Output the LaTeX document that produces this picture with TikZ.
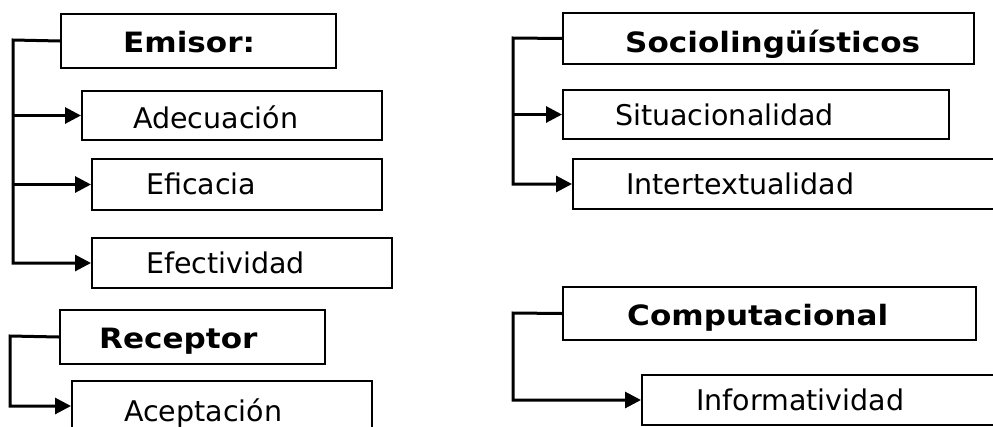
\documentclass[tikz,border=0pt]{standalone}
\usepackage{fontspec}
\setmainfont{DejaVu Sans}
\newfontfamily\hdrfont[FakeStretch=1.11]{DejaVu Sans Bold}
\usetikzlibrary{arrows.meta}
\tikzset{
  box/.style={draw=black, line width=2pt, rectangle, anchor=north west, inner sep=0pt},
  txt/.style={anchor=base west, inner sep=0pt, font=\fontsize{28.5}{30}\selectfont},
  hdr/.style={anchor=base west, inner sep=0pt, font=\fontsize{28}{30}\selectfont\hdrfont},
  conn/.style={draw=black, line width=3pt},
  arr/.style={conn, -{Triangle[length=16pt,width=16pt]}}
}
\begin{document}
\begin{tikzpicture}[x=1pt,y=-1pt]
\useasboundingbox (0,0) rectangle (993,426);
\clip (0,0) rectangle (993,426);
% boxes
\node[box, minimum width=275, minimum height=54] (ems) at (60,13) {};
\node[box, minimum width=300, minimum height=49] (ade) at (81,90) {};
\node[box, minimum width=290, minimum height=51] (efi) at (91,158) {};
\node[box, minimum width=300, minimum height=50] (efe) at (91,237) {};
\node[box, minimum width=265, minimum height=54] (rec) at (59,309) {};
\node[box, minimum width=300, minimum height=50] (ace) at (71,380) {};
\node[box, minimum width=411, minimum height=51] (soc) at (562,12) {};
\node[box, minimum width=386, minimum height=49] (sit) at (562,89) {};
\node[box, minimum width=440, minimum height=50] (int) at (572,158) {};
\node[box, minimum width=413, minimum height=53] (com) at (562,286) {};
\node[box, minimum width=370, minimum height=50] (inf) at (641,374) {};
% texts
\node[hdr] (tems) at (123,52) {Emisor:};
\node[txt] (tade) at (133,128) {Adecuación};
\node[txt] (tefi) at (146,194) {Eficacia};
\node[txt] (tefe) at (146,273) {Efectividad};
\node[hdr] (trec) at (99,348) {Receptor};
\node[txt] (tace) at (124,421) {Aceptación};
\node[hdr] (tsoc) at (625,52) {Sociolingüísticos};
\node[txt] (tsit) at (615,125) {Situacionalidad};
\node[txt] (tint) at (626,194) {Intertextualidad};
\node[hdr] (tcom) at (627,325) {Computacional};
\node[txt] (tinf) at (696,410) {Informatividad};
% connectors
\coordinate (s1) at (13,40);
\draw[arr] (ems.west) -- (s1) |- (efe.west);
\draw[arr] (s1 |- ade.west) -- (ade.west);
\draw[arr] (s1 |- efi.west) -- (efi.west);
\coordinate (s2) at (10,336);
\draw[arr] (rec.west) -- (s2) |- (ace.west);
\coordinate (s3) at (513,38);
\draw[arr] (soc.west) -- (s3) |- (int.west);
\draw[arr] (s3 |- sit.west) -- (sit.west);
\coordinate (s4) at (513,313);
\draw[arr] (com.west) -- (s4) |- (inf.west);
\end{tikzpicture}
\end{document}
